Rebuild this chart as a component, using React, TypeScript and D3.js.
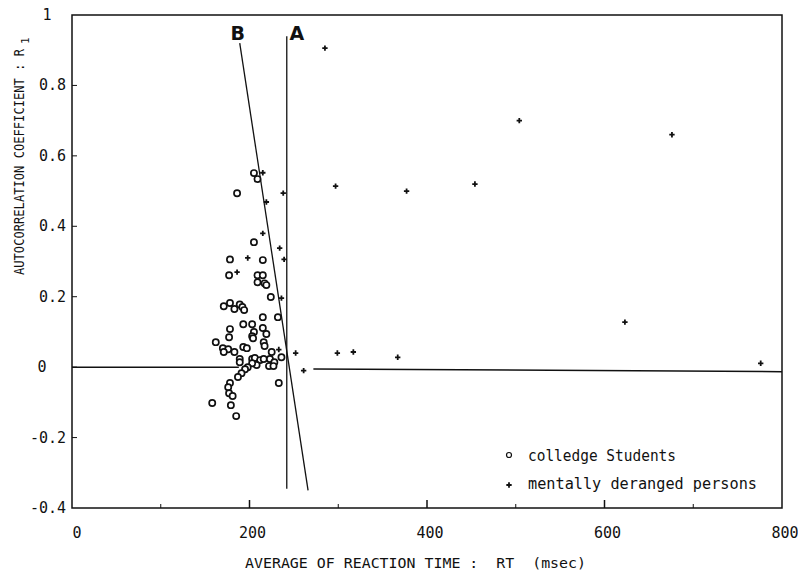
import React from 'react';
import * as d3 from 'd3';

// college students (open circles): [RT msec, R1]
const studentRT = [205, 209, 186, 205, 178, 215, 177, 209, 215, 209, 217, 219, 224, 171, 178, 183, 189, 192, 194, 215, 232, 193, 203, 205, 215, 219, 178, 177, 203, 204, 162, 216, 217, 170, 176, 171, 183, 193, 197, 225, 236, 189, 189, 203, 206, 212, 216, 223, 228, 222, 227, 208, 203, 198, 195, 191, 187, 233, 178, 176, 177, 181, 158, 179, 185];
const studentR1 = [0.551, 0.534, 0.494, 0.355, 0.306, 0.304, 0.261, 0.261, 0.261, 0.241, 0.238, 0.233, 0.199, 0.173, 0.182, 0.165, 0.178, 0.171, 0.162, 0.142, 0.142, 0.122, 0.122, 0.1, 0.111, 0.094, 0.108, 0.085, 0.088, 0.082, 0.071, 0.071, 0.06, 0.054, 0.051, 0.043, 0.043, 0.057, 0.054, 0.043, 0.028, 0.023, 0.014, 0.023, 0.026, 0.02, 0.023, 0.023, 0.014, 0.003, 0.003, 0.006, 0.011, 0.0, -0.006, -0.017, -0.028, -0.045, -0.045, -0.057, -0.074, -0.082, -0.102, -0.108, -0.139];

// mentally deranged persons (filled crosses)
const patientRT = [285, 504, 676, 297, 454, 377, 623, 252, 261, 299, 317, 367, 776, 215, 238, 219, 215, 234, 198, 239, 186, 236, 233];
const patientR1 = [0.906, 0.70, 0.66, 0.514, 0.52, 0.50, 0.128, 0.04, -0.01, 0.04, 0.043, 0.028, 0.011, 0.552, 0.494, 0.469, 0.38, 0.338, 0.31, 0.306, 0.27, 0.196, 0.05];

// reference lines
const lineA: [number, number][] = [[242, 0.94], [242, -0.345]];
const lineB: [number, number][] = [[189, 0.92], [266, -0.35]];
const zeroLeft: [number, number][] = [[0, 0], [188, 0]];
const zeroRight: [number, number][] = [[272, -0.005], [800, -0.013]];

const xTicks = [0, 200, 400, 600, 800];
const xMinor = [100, 300, 500, 700];
const yTicks = [-0.4, -0.2, 0, 0.2, 0.4, 0.6, 0.8, 1];
const yLabels = ['-0.4', '-0.2', '0', '0.2', '0.4', '0.6', '0.8', '1'];

const W = 798, H = 574;
const mono = "'DejaVu Sans Mono', monospace";

export default function App() {
  const x = d3.scaleLinear().domain([0, 800]).range([72, 782]);
  const y = d3.scaleLinear().domain([-0.4, 1]).range([508, 15]);
  const line = d3.line<[number, number]>().x(d => x(d[0])).y(d => y(d[1]));
  const cross = d3.symbol().type(d3.symbolCross).size(16)() as string;

  return (
    <svg width={W} height={H} style={{ position: 'absolute', left: 0, top: 0, background: '#fff' }}>
      {/* frame */}
      <rect x={x(0)} y={y(1)} width={x(800) - x(0)} height={y(-0.4) - y(1)} fill="none" stroke="#111" strokeWidth={1.5} />

      {/* ticks */}
      {xTicks.slice(1, 4).map(t => (
        <line key={'xt' + t} x1={x(t)} x2={x(t)} y1={y(-0.4)} y2={y(-0.4) - 8} stroke="#111" strokeWidth={1.5} />
      ))}
      {xMinor.map(t => (
        <line key={'xm' + t} x1={x(t)} x2={x(t)} y1={y(-0.4)} y2={y(-0.4) - 4} stroke="#111" strokeWidth={1} />
      ))}
      {yTicks.slice(1, 7).map(t => (
        <line key={'yt' + t} x1={x(0)} x2={x(0) + 5} y1={y(t)} y2={y(t)} stroke="#111" strokeWidth={1} />
      ))}

      {/* tick labels */}
      {xTicks.map(t => (
        <text key={'xl' + t} x={x(t) + (t === 0 ? 5 : 3)} y={y(-0.4) + 30} textAnchor="middle" fontFamily={mono} fontSize={15} fill="#111">{t}</text>
      ))}
      {yTicks.map((t, i) => {
        const lab = yLabels[i];
        const whole = lab.indexOf('.') < 0;
        return (
          <text key={'yl' + t} x={whole ? (t === 1 ? 47 : 42) : 66} y={y(t) + 5} textAnchor={whole ? 'middle' : 'end'} fontFamily={mono} fontSize={15} fill="#111">{lab}</text>
        );
      })}

      {/* axis titles */}
      <text x={245} y={568} fontFamily={mono} fontSize={14} textLength={341} lengthAdjust="spacingAndGlyphs" fill="#111" xmlSpace="preserve">AVERAGE OF REACTION TIME :  RT  (msec)</text>
      <g transform="translate(24,275) rotate(-90)">
        <text x={0} y={0} fontFamily={mono} fontSize={14} textLength={226} lengthAdjust="spacingAndGlyphs" fill="#111">AUTOCORRELATION COEFFICIENT : R</text>
        <text x={231} y={5} fontFamily={mono} fontSize={11} fill="#111">1</text>
      </g>

      {/* reference lines */}
      <path d={line(zeroLeft) as string} fill="none" stroke="#111" strokeWidth={1.5} />
      <path d={line(zeroRight) as string} fill="none" stroke="#111" strokeWidth={1.5} />
      <path d={line(lineA) as string} fill="none" stroke="#111" strokeWidth={1.3} />
      <path d={line(lineB) as string} fill="none" stroke="#111" strokeWidth={1.3} />
      <text x={x(lineB[0][0]) - 2} y={40} textAnchor="middle" fontFamily="'DejaVu Sans', sans-serif" fontWeight="bold" fontSize={19} fill="#111">B</text>
      <text x={x(lineA[0][0]) + 10} y={40} textAnchor="middle" fontFamily="'DejaVu Sans', sans-serif" fontWeight="bold" fontSize={19} fill="#111">A</text>

      {/* students */}
      {studentRT.map((v, i) => (
        <circle key={'s' + i} cx={x(v)} cy={y(studentR1[i])} r={3.1} fill="#fff" stroke="#111" strokeWidth={1.7} />
      ))}
      {/* patients */}
      {patientRT.map((v, i) => (
        <path key={'p' + i} d={cross} transform={`translate(${x(v)},${y(patientR1[i])})`} fill="#111" />
      ))}

      {/* legend */}
      <circle cx={509} cy={455} r={2.5} fill="#fff" stroke="#111" strokeWidth={1.2} />
      <text x={528} y={461} fontFamily={mono} fontSize={15} textLength={148} lengthAdjust="spacingAndGlyphs" fill="#111">colledge Students</text>
      <path d={cross} transform="translate(509,485)" fill="#111" />
      <text x={528} y={489} fontFamily={mono} fontSize={15} textLength={229} lengthAdjust="spacingAndGlyphs" fill="#111">mentally deranged persons</text>
    </svg>
  );
}
